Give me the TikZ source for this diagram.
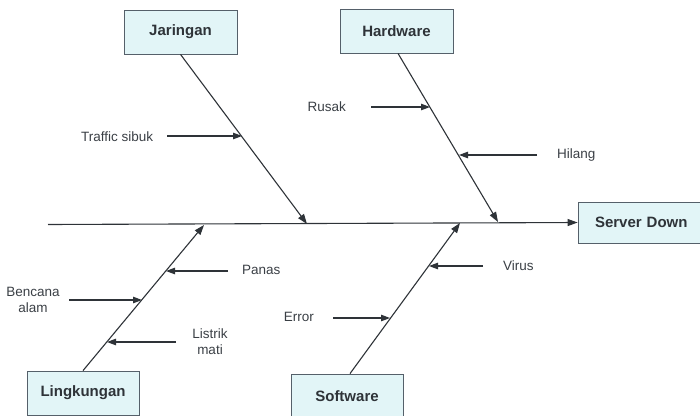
\documentclass[tikz,border=0pt]{standalone}
\usepackage{fontspec}
\setmainfont{Liberation Sans}
\usetikzlibrary{arrows.meta}
\definecolor{boxfill}{HTML}{E2F5F7}
\definecolor{boxline}{HTML}{55606A}
\definecolor{ink}{HTML}{2E3338}
\definecolor{txt}{HTML}{3A3F45}
\begin{document}
\begin{tikzpicture}[x=1pt,y=-1pt,
  catbox/.style={draw=boxline,fill=boxfill,line width=0.8pt,inner sep=0pt,font=\fontsize{15}{17}\selectfont\bfseries,text=ink},
  lbl/.style={inner sep=0pt,font=\fontsize{13.5}{16}\selectfont,text=txt,align=center},
  bone/.style={draw=ink,line width=1.1pt,-{Triangle[length=10pt,width=7pt]}},
  sub/.style={draw=ink,line width=1.1pt,-{Triangle[length=9pt,width=6.5pt]}}]
\useasboundingbox (0,0) rectangle (700,415);
\clip (0,0) rectangle (700,415);
% boxes
\node[catbox,minimum width=113pt,minimum height=44pt] (jar) at (180.5,32) {Jaringan};
\node[catbox,minimum width=113pt,minimum height=44pt] (hw) at (396.5,31) {Hardware};
\node[catbox,minimum width=124pt,minimum height=41pt,text width=118pt,align=left] (sd) at (640,222.5) {\hspace{14pt}Server Down};
\node[catbox,minimum width=112pt,minimum height=44pt] (lk) at (83,393) {Lingkungan};
\node[catbox,minimum width=112pt,minimum height=44pt] (sw) at (347,396) {Software};
% spine
\coordinate (spine) at (48,224.5);
\draw[bone] (spine) -- (sd.west);
% bones
\coordinate (jarend) at (307,224);
\coordinate (hwend) at (498,222);
\coordinate (lkend) at (204,225);
\coordinate (swend) at (460,223);
\draw[bone] (jar.south) -- (jarend);
\draw[bone] ([xshift=1.5pt]hw.south) -- (hwend);
\draw[bone] (lk.north) -- (lkend);
\draw[bone] ([xshift=3pt]sw.north) -- (swend);
% sub causes
\node[lbl,anchor=west] (traffic) at (81,137) {Traffic sibuk};
\coordinate (trafficstart) at (167,136);
\coordinate (trafficend) at (242,136);
\draw[sub] (trafficstart) -- (trafficend);
\node[lbl,anchor=east] (rusak) at (346,107) {Rusak};
\coordinate (rusakstart) at (371,107);
\coordinate (rusakend) at (430,107);
\draw[sub] (rusakstart) -- (rusakend);
\node[lbl,anchor=west] (hilang) at (557,155) {Hilang};
\coordinate (hilangstart) at (537,155);
\coordinate (hilangend) at (459,155);
\draw[sub] (hilangstart) -- (hilangend);
\node[lbl,anchor=west] (panas) at (242,270) {Panas};
\coordinate (panasstart) at (228,271);
\coordinate (panasend) at (166,271);
\draw[sub] (panasstart) -- (panasend);
\node[lbl] (bencana) at (33,300) {Bencana\\alam};
\coordinate (bencanastart) at (69,300);
\coordinate (bencanaend) at (142,300);
\draw[sub] (bencanastart) -- (bencanaend);
\node[lbl] (listrik) at (210,342) {Listrik\\mati};
\coordinate (listrikstart) at (176,342);
\coordinate (listrikend) at (107,342);
\draw[sub] (listrikstart) -- (listrikend);
\node[lbl,anchor=east] (error) at (314,317) {Error};
\coordinate (errorstart) at (333,318);
\coordinate (errorend) at (390,318);
\draw[sub] (errorstart) -- (errorend);
\node[lbl,anchor=west] (virus) at (503,266) {Virus};
\coordinate (virusstart) at (483,266);
\coordinate (virusend) at (429,266);
\draw[sub] (virusstart) -- (virusend);
\end{tikzpicture}
\end{document}
